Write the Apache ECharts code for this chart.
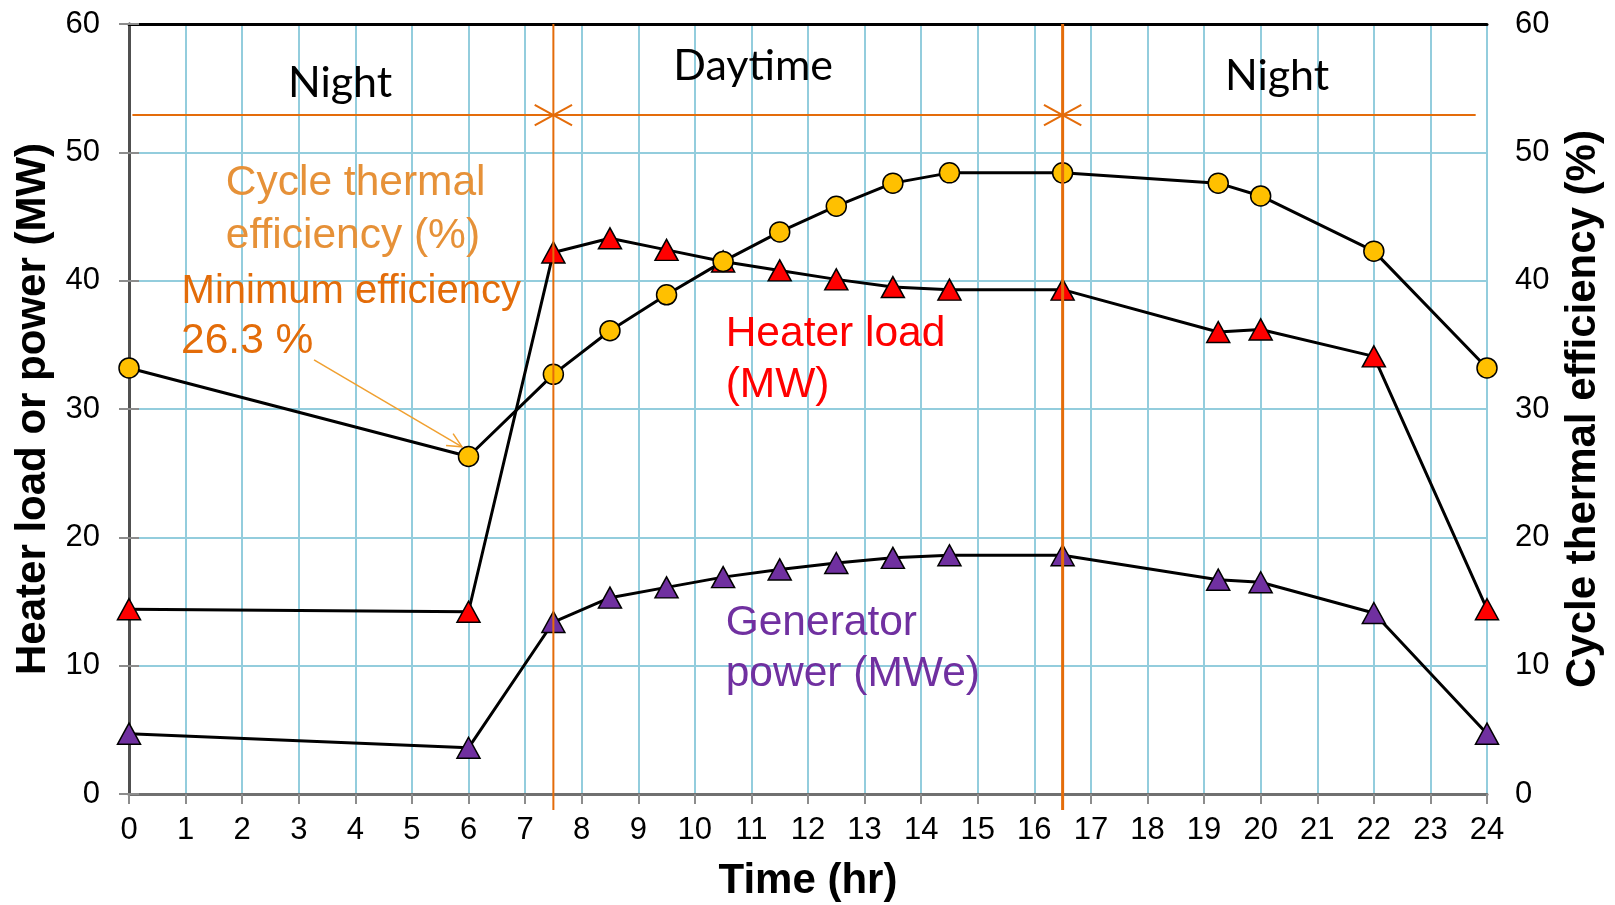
<!DOCTYPE html>
<html>
<head>
<meta charset="utf-8">
<script src="https://cdn.jsdelivr.net/npm/echarts@6/dist/echarts.min.js"></script>
<style>
html, body { margin: 0; padding: 0; background: #fff; }
#chart { width: 1615px; height: 905px; }
</style>
</head>
<body>
<div id="chart"></div>
<script>
// time of day (hr)
var hours = [0, 6, 7.5, 8.5, 9.5, 10.5, 11.5, 12.5, 13.5, 14.5, 16.5, 19.25, 20, 22, 24];
// heater load (MW)
var heaterLoad = [14.4, 14.2, 42.2, 43.3, 42.4, 41.5, 40.8, 40.1, 39.5, 39.3, 39.3, 36.0, 36.2, 34.1, 14.4];
// generator power (MWe)
var generatorPower = [4.7, 3.6, 13.4, 15.3, 16.1, 16.9, 17.5, 18.0, 18.4, 18.6, 18.6, 16.7, 16.5, 14.1, 4.7];
// cycle thermal efficiency (%)
var cycleEfficiency = [33.2, 26.3, 32.7, 36.1, 38.9, 41.5, 43.8, 45.8, 47.6, 48.4, 48.4, 47.6, 46.6, 42.3, 33.2];
// day / night boundaries (hr)
var periodBounds = [7.5, 16.5];
var periodNames = ['Night', 'Daytime', 'Night'];

var chart = echarts.init(document.getElementById('chart'));
var FONT = '"Liberation Sans", Arial, sans-serif';

function pairs(vals) {
    return hours.map(function (h, i) { return [h, vals[i]]; });
}

var tickLabel = { fontFamily: FONT, fontSize: 31, color: '#000' };
var gridBlue = '#93cddd';

var option = {
    animation: false,
    backgroundColor: '#fff',
    grid: { left: 129, right: 128, top: 24, bottom: 111, outerBoundsMode: 'none' },
    xAxis: [{
        type: 'value', min: 0, max: 24, interval: 1,
        name: 'Time (hr)', nameLocation: 'middle', nameGap: 66,
        nameTextStyle: { fontFamily: FONT, fontSize: 42, fontWeight: 'bold', color: '#000' },
        axisLine: { show: true, lineStyle: { color: '#707070', width: 3 } },
        axisTick: { show: true, length: 10, lineStyle: { color: '#8c8c8c', width: 2 } },
        axisLabel: Object.assign({ margin: 21 }, tickLabel),
        splitLine: { show: true, lineStyle: { color: gridBlue, width: 2 } }
    }, {
        // top frame line
        type: 'value', position: 'top', min: 0, max: 24,
        axisLine: { show: true, onZero: false, lineStyle: { color: '#000', width: 3 } },
        axisTick: { show: false }, axisLabel: { show: false }, splitLine: { show: false }
    }],
    yAxis: [{
        type: 'value', min: 0, max: 60, interval: 10, position: 'left',
        name: 'Heater load or power (MW)', nameLocation: 'middle', nameGap: 73, nameRotate: 90,
        nameTextStyle: { fontFamily: FONT, fontSize: 42, fontWeight: 'bold', color: '#000' },
        axisLine: { show: true, lineStyle: { color: '#505050', width: 3 } },
        axisTick: { show: true, length: 10, lineStyle: { color: '#8c8c8c', width: 2 } },
        axisLabel: Object.assign({ margin: 29 }, tickLabel),
        splitLine: { show: true, lineStyle: { color: gridBlue, width: 2 } }
    }, {
        type: 'value', min: 0, max: 60, interval: 10, position: 'right',
        name: 'Cycle thermal efficiency (%)', nameLocation: 'middle', nameGap: 75, nameRotate: 90,
        nameTextStyle: { fontFamily: FONT, fontSize: 42, fontWeight: 'bold', color: '#000' },
        axisLine: { show: true, lineStyle: { color: '#505050', width: 3 } },
        axisTick: { show: true, length: 10, lineStyle: { color: '#8c8c8c', width: 2 } },
        axisLabel: Object.assign({ margin: 28 }, tickLabel),
        splitLine: { show: false }
    }],
    series: [{
        name: 'Generator power (MWe)', type: 'line', yAxisIndex: 0,
        data: pairs(generatorPower),
        symbol: 'triangle', symbolSize: [23, 21],
        itemStyle: { color: '#7030a0', borderColor: '#000', borderWidth: 1.5 },
        lineStyle: { color: '#000', width: 3 }
    }, {
        name: 'Heater load (MW)', type: 'line', yAxisIndex: 0,
        data: pairs(heaterLoad),
        symbol: 'triangle', symbolSize: [23, 21],
        itemStyle: { color: '#ff0000', borderColor: '#000', borderWidth: 1.5 },
        lineStyle: { color: '#000', width: 3 }
    }, {
        name: 'Cycle thermal efficiency (%)', type: 'line', yAxisIndex: 1,
        data: pairs(cycleEfficiency),
        symbol: 'circle', symbolSize: 20,
        itemStyle: { color: '#ffc000', borderColor: '#000', borderWidth: 1.5 },
        lineStyle: { color: '#000', width: 3 }
    }]
};
chart.setOption(option);

// annotations, placed in data coordinates
function px(x, y) {
    return chart.convertToPixel({ xAxisIndex: 0, yAxisIndex: 0 }, [x, y]);
}
function seg(x1, y1, x2, y2, color, w) {
    var a = px(x1, y1), b = px(x2, y2);
    return { type: 'line', z: 50, shape: { x1: a[0], y1: a[1], x2: b[0], y2: b[1] },
        style: { stroke: color, lineWidth: w } };
}
function txt(s, x, y, color, size, family, align) {
    var p = px(x, y);
    return { type: 'text', z: 50, x: p[0], y: p[1],
        style: { text: s, fill: color, font: size + 'px ' + family,
            textAlign: align || 'left', textVerticalAlign: 'middle' } };
}

var orange = '#e46c0a';
var bandY = 52.9;
var g = [];
// vertical day/night markers
g.push(seg(periodBounds[0], 60, periodBounds[0], -1.25, orange, 2));
g.push(seg(periodBounds[1], 60, periodBounds[1], -1.25, orange, 3));
// horizontal period spans
g.push(seg(0.06, bandY, periodBounds[0], bandY, orange, 2));
g.push(seg(periodBounds[0], bandY, periodBounds[1], bandY, orange, 2));
g.push(seg(periodBounds[1], bandY, 23.8, bandY, orange, 2));
// open arrow heads meeting at each boundary
periodBounds.forEach(function (b) {
    g.push(seg(b - 0.33, bandY + 0.8, b, bandY, orange, 2));
    g.push(seg(b - 0.33, bandY - 0.8, b, bandY, orange, 2));
    g.push(seg(b + 0.33, bandY + 0.8, b, bandY, orange, 2));
    g.push(seg(b + 0.33, bandY - 0.8, b, bandY, orange, 2));
});
var LATO = 'Lato, "Open Sans", sans-serif';
g.push(txt(periodNames[0], 3.73, 55.4, '#000', 43, LATO, 'center'));
g.push(txt(periodNames[1], 11.03, 56.7, '#000', 43, LATO, 'center'));
g.push(txt(periodNames[2], 20.29, 55.9, '#000', 43, LATO, 'center'));

g.push(txt('Cycle thermal', 1.71, 47.55, '#e69138', 42.5, FONT));
g.push(txt('efficiency (%)', 1.71, 43.45, '#e69138', 42.5, FONT));
g.push(txt('Minimum efficiency', 0.93, 39.15, '#e36c09', 40, FONT));
g.push(txt('26.3 %', 0.92, 35.25, '#e36c09', 42.5, FONT));
g.push(txt('Heater load', 10.545, 35.85, '#ff0000', 42.5, FONT));
g.push(txt('(MW)', 10.545, 31.85, '#ff0000', 42.5, FONT));
g.push(txt('Generator', 10.545, 13.3, '#7030a0', 42.5, FONT));
g.push(txt('power (MWe)', 10.545, 9.3, '#7030a0', 42.5, FONT));

// pointer to the minimum efficiency point
var aS = px(3.27, 33.83), aE = px(5.885, 27.05);
var ang = Math.atan2(aE[1] - aS[1], aE[0] - aS[0]);
var hl = 16, hw = 0.45;
g.push({ type: 'line', z: 50, shape: { x1: aS[0], y1: aS[1], x2: aE[0], y2: aE[1] },
    style: { stroke: '#f0a030', lineWidth: 1.5 } });
g.push({ type: 'polyline', z: 50, shape: { points: [
        [aE[0] - hl * Math.cos(ang - hw), aE[1] - hl * Math.sin(ang - hw)],
        [aE[0], aE[1]],
        [aE[0] - hl * Math.cos(ang + hw), aE[1] - hl * Math.sin(ang + hw)]
    ] }, style: { stroke: '#f0a030', lineWidth: 1.5, fill: null } });

chart.setOption({ graphic: { elements: g } });
</script>
</body>
</html>
